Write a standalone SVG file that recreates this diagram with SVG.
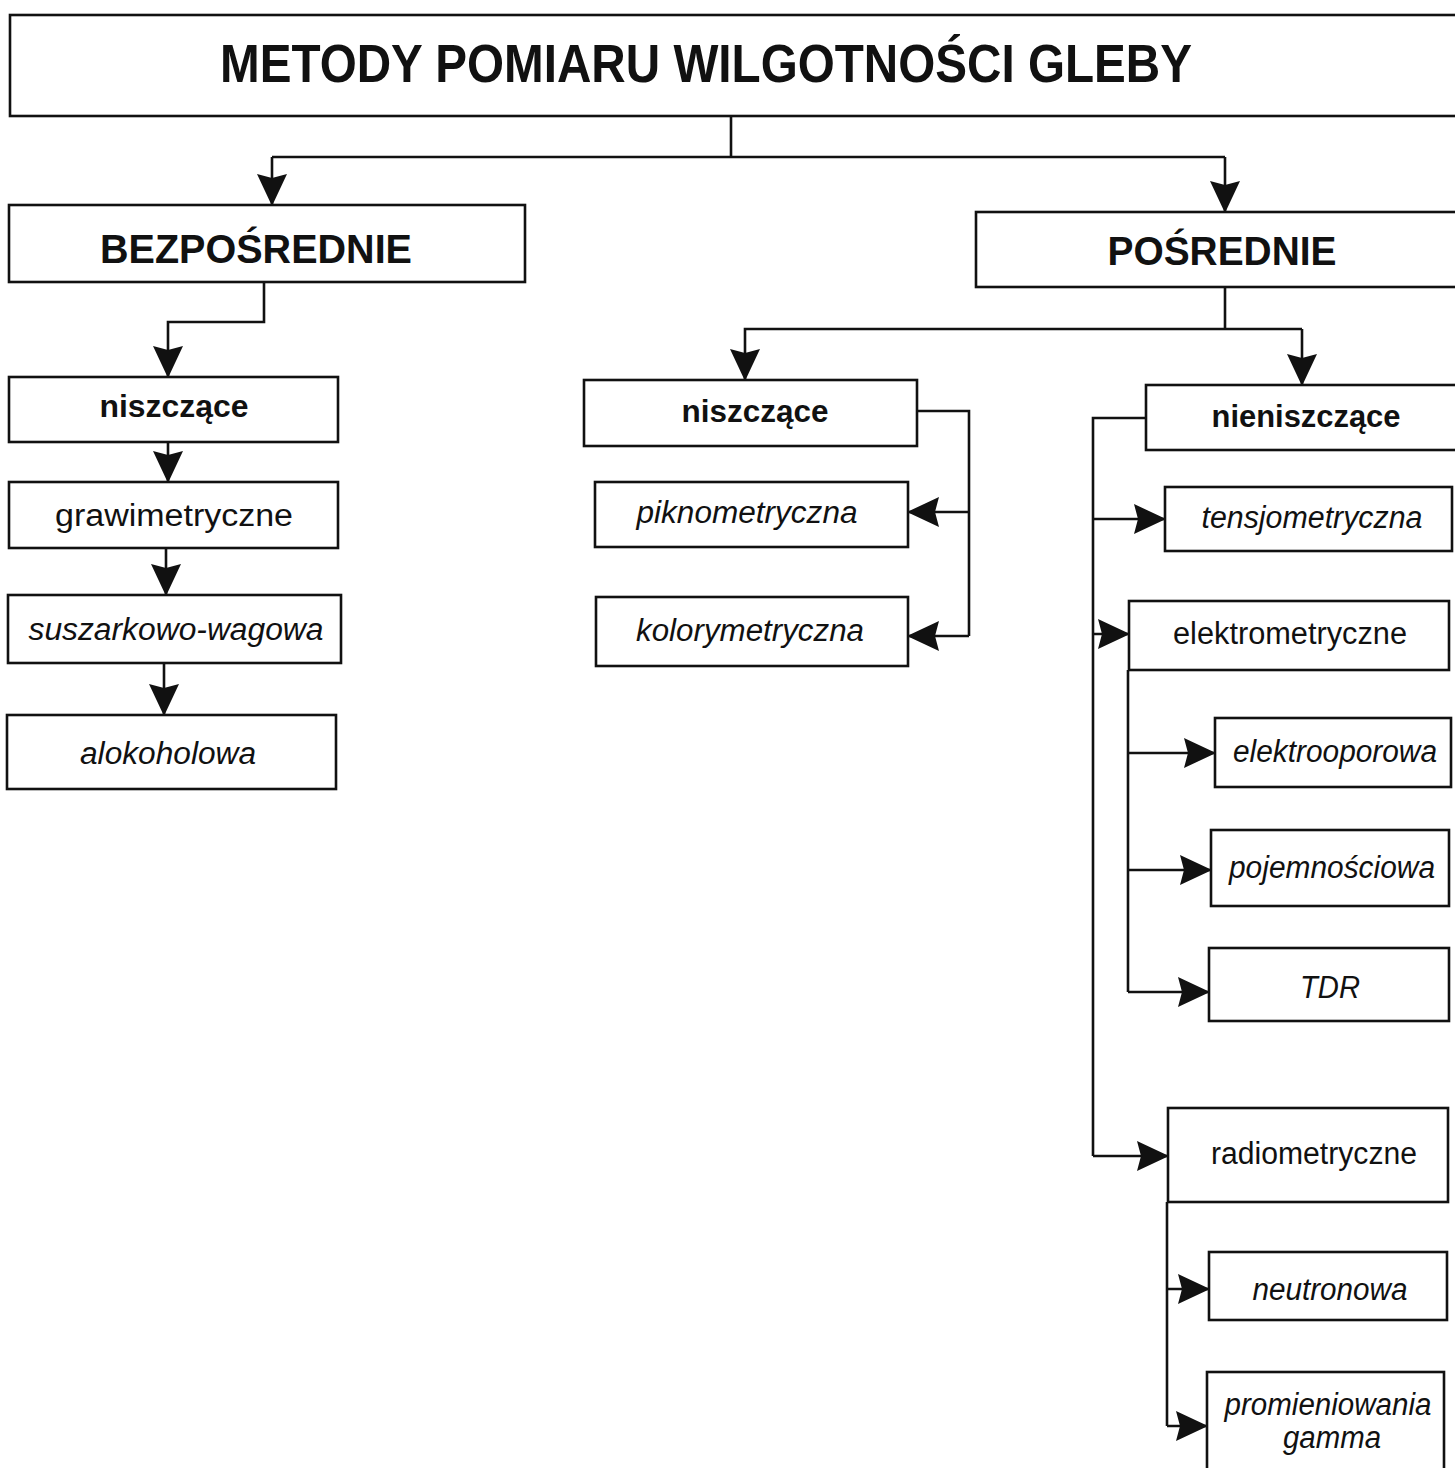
<svg xmlns="http://www.w3.org/2000/svg" width="1455" height="1468" viewBox="0 0 1455 1468">
<defs>
<style>
.box{fill:#fff;stroke:#111;stroke-width:2.6}
.ln{fill:none;stroke:#111;stroke-width:2.6}
.arr{marker-end:url(#ah)}
text{font-family:"Liberation Sans",Arial,sans-serif;fill:#111;text-anchor:middle}
.t{font-size:54px;font-weight:bold}
.h{font-size:40px;font-weight:bold}
.b{font-size:32px;font-weight:bold}
.r{font-size:31px}
.i{font-size:31px;font-style:italic}
</style>
<marker id="ah" markerUnits="userSpaceOnUse" markerWidth="32" markerHeight="30" refX="31" refY="15" orient="auto" viewBox="0 0 32 30">
<path d="M0,0 L32,15 L0,30 L4,15 z" fill="#111"/>
</marker>
</defs>
<rect width="1455" height="1468" fill="#fff"/>

<g id="connectors">
<path class="ln" d="M731,116 V157"/>
<path class="ln arr" d="M272,157 H1225 M272,157 V205"/>
<path class="ln arr" d="M1225,157 V212"/>
<path class="ln arr" d="M264,283 V322 H168 V377"/>
<path class="ln arr" d="M168,442 V482"/>
<path class="ln arr" d="M166,548 V595"/>
<path class="ln arr" d="M164,663 V715"/>
<path class="ln" d="M1225,287 V329"/>
<path class="ln arr" d="M1302,329 H745 V380"/>
<path class="ln arr" d="M1302,329 V385"/>
<path class="ln" d="M917,411 H969 V636"/>
<path class="ln arr" d="M969,512 H908"/>
<path class="ln arr" d="M969,636 H908"/>
<path class="ln" d="M1146,418 H1093 V1156"/>
<path class="ln arr" d="M1093,519 H1165"/>
<path class="ln arr" d="M1093,634 H1129"/>
<path class="ln arr" d="M1093,1156 H1168"/>
<path class="ln" d="M1128,670 V992"/>
<path class="ln arr" d="M1128,753 H1215"/>
<path class="ln arr" d="M1128,870 H1211"/>
<path class="ln arr" d="M1128,992 H1209"/>
<path class="ln" d="M1167,1202 V1426"/>
<path class="ln arr" d="M1167,1289 H1209"/>
<path class="ln arr" d="M1167,1426 H1207"/>
</g>

<g id="n-title"><rect class="box" x="10" y="15" width="1460" height="101"/><text class="t" x="706" y="82" textLength="972" lengthAdjust="spacingAndGlyphs">METODY POMIARU WILGOTNOŚCI GLEBY</text></g>
<g id="n-bezposrednie"><rect class="box" x="9" y="205" width="516" height="77"/><text class="h" x="256" y="263" textLength="312" lengthAdjust="spacingAndGlyphs">BEZPOŚREDNIE</text></g>
<g id="n-posrednie"><rect class="box" x="976" y="212" width="482" height="75"/><text class="h" x="1222" y="265" textLength="229" lengthAdjust="spacingAndGlyphs">POŚREDNIE</text></g>

<g id="n-niszczace-l"><rect class="box" x="9" y="377" width="329" height="65"/><text class="b" x="174" y="417" textLength="149" lengthAdjust="spacingAndGlyphs">niszczące</text></g>
<g id="n-grawimetryczne"><rect class="box" x="9" y="482" width="329" height="66"/><text class="r" x="174" y="526" textLength="238" lengthAdjust="spacingAndGlyphs">grawimetryczne</text></g>
<g id="n-suszarkowo"><rect class="box" x="8" y="595" width="333" height="68"/><text class="i" x="176" y="640" textLength="295" lengthAdjust="spacingAndGlyphs">suszarkowo-wagowa</text></g>
<g id="n-alokoholowa"><rect class="box" x="7" y="715" width="329" height="74"/><text class="i" x="168" y="764" textLength="176" lengthAdjust="spacingAndGlyphs">alokoholowa</text></g>

<g id="n-niszczace-m"><rect class="box" x="584" y="380" width="333" height="66"/><text class="b" x="755" y="422" textLength="147" lengthAdjust="spacingAndGlyphs">niszczące</text></g>
<g id="n-piknometryczna"><rect class="box" x="595" y="482" width="313" height="65"/><text class="i" x="747" y="523" textLength="221" lengthAdjust="spacingAndGlyphs">piknometryczna</text></g>
<g id="n-kolorymetryczna"><rect class="box" x="596" y="597" width="312" height="69"/><text class="i" x="750" y="641" textLength="228" lengthAdjust="spacingAndGlyphs">kolorymetryczna</text></g>

<g id="n-nieniszczace"><rect class="box" x="1146" y="385" width="312" height="65"/><text class="b" x="1306" y="427" textLength="189" lengthAdjust="spacingAndGlyphs">nieniszczące</text></g>
<g id="n-tensjometryczna"><rect class="box" x="1165" y="487" width="287" height="64"/><text class="i" x="1312" y="528" textLength="221" lengthAdjust="spacingAndGlyphs">tensjometryczna</text></g>
<g id="n-elektrometryczne"><rect class="box" x="1129" y="601" width="320" height="69"/><text class="r" x="1290" y="644" textLength="234" lengthAdjust="spacingAndGlyphs">elektrometryczne</text></g>
<g id="n-elektrooporowa"><rect class="box" x="1215" y="718" width="236" height="69"/><text class="i" x="1335" y="762" textLength="204" lengthAdjust="spacingAndGlyphs">elektrooporowa</text></g>
<g id="n-pojemnosciowa"><rect class="box" x="1211" y="830" width="238" height="76"/><text class="i" x="1332" y="878" textLength="206" lengthAdjust="spacingAndGlyphs">pojemnościowa</text></g>
<g id="n-tdr"><rect class="box" x="1209" y="948" width="240" height="73"/><text class="i" x="1330" y="998" textLength="60" lengthAdjust="spacingAndGlyphs">TDR</text></g>
<g id="n-radiometryczne"><rect class="box" x="1168" y="1108" width="280" height="94"/><text class="r" x="1314" y="1164" textLength="206" lengthAdjust="spacingAndGlyphs">radiometryczne</text></g>
<g id="n-neutronowa"><rect class="box" x="1209" y="1252" width="238" height="68"/><text class="i" x="1330" y="1300" textLength="155" lengthAdjust="spacingAndGlyphs">neutronowa</text></g>
<g id="n-gamma"><rect class="box" x="1207" y="1372" width="237" height="110"/><text class="i" x="1328" y="1415" textLength="207" lengthAdjust="spacingAndGlyphs">promieniowania</text><text class="i" x="1332" y="1448" textLength="98" lengthAdjust="spacingAndGlyphs">gamma</text></g>
</svg>
